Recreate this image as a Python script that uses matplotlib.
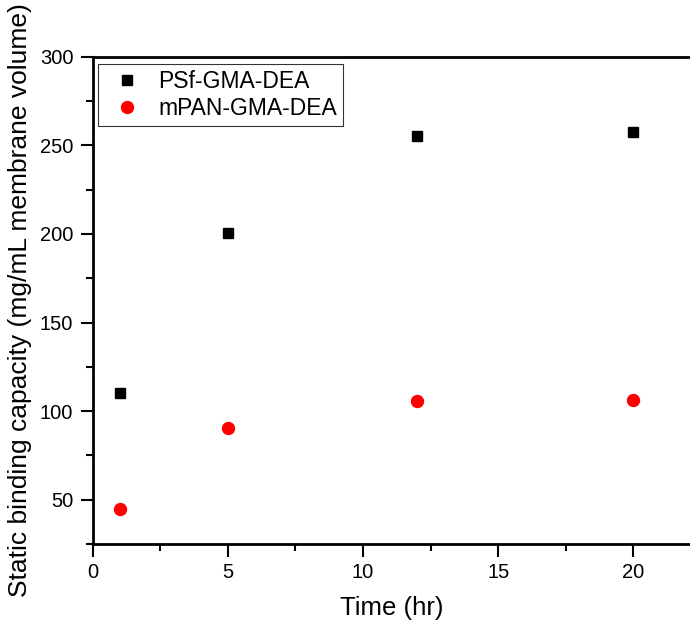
import matplotlib.pyplot as plt
from matplotlib.ticker import MultipleLocator

plt.rcParams['font.family'] = ['Liberation Sans', 'DejaVu Sans']

# data
time_hr = [1, 5, 12, 20]
psf_gma_dea = [110.4, 200.6, 255.1, 257.7]
mpan_gma_dea = [44.9, 90.6, 105.6, 106.2]

W, H = 690, 621
fig = plt.figure(figsize=(W / 100, H / 100), dpi=100)
left, right, top, bottom = 92.8, 690, 56.7, 544
ax = fig.add_axes([left / W, (H - bottom) / H, (right - left) / W, (bottom - top) / H])

ax.plot(time_hr, psf_gma_dea, 's', color='black', markersize=7.3,
        label='PSf-GMA-DEA', clip_on=False)
ax.plot(time_hr, mpan_gma_dea, 'o', color='#ff0000', markersize=8.6,
        label='mPAN-GMA-DEA', clip_on=False)

ax.set_xlim(0, 22.1)
ax.set_ylim(25, 300)
ax.xaxis.set_major_locator(MultipleLocator(5))
ax.xaxis.set_minor_locator(MultipleLocator(2.5))
ax.yaxis.set_major_locator(MultipleLocator(50))
ax.yaxis.set_minor_locator(MultipleLocator(25))
ax.tick_params(which='major', direction='out', length=9, width=1.5, labelsize=14.5, pad=5)
ax.tick_params(which='minor', direction='out', length=5, width=1.5)
ax.tick_params(top=False, right=False, which='both')

for s in ['left', 'bottom', 'top']:
    ax.spines[s].set_linewidth(2)
ax.spines['right'].set_visible(False)

ax.set_xlabel('Time (hr)', fontsize=18.5, labelpad=10)
ax.set_ylabel('Static binding capacity (mg/mL membrane volume)', fontsize=19, labelpad=6)

leg = ax.legend(loc='upper left', bbox_to_anchor=(0.0087, 0.985), borderaxespad=0,
                fontsize=16.5, frameon=True, fancybox=False, handletextpad=0.33,
                labelspacing=0.2, borderpad=0.25, handlelength=2.05)
leg.get_frame().set_edgecolor('black')
leg.get_frame().set_linewidth(0.8)

fig.savefig('out.png', dpi=100)
